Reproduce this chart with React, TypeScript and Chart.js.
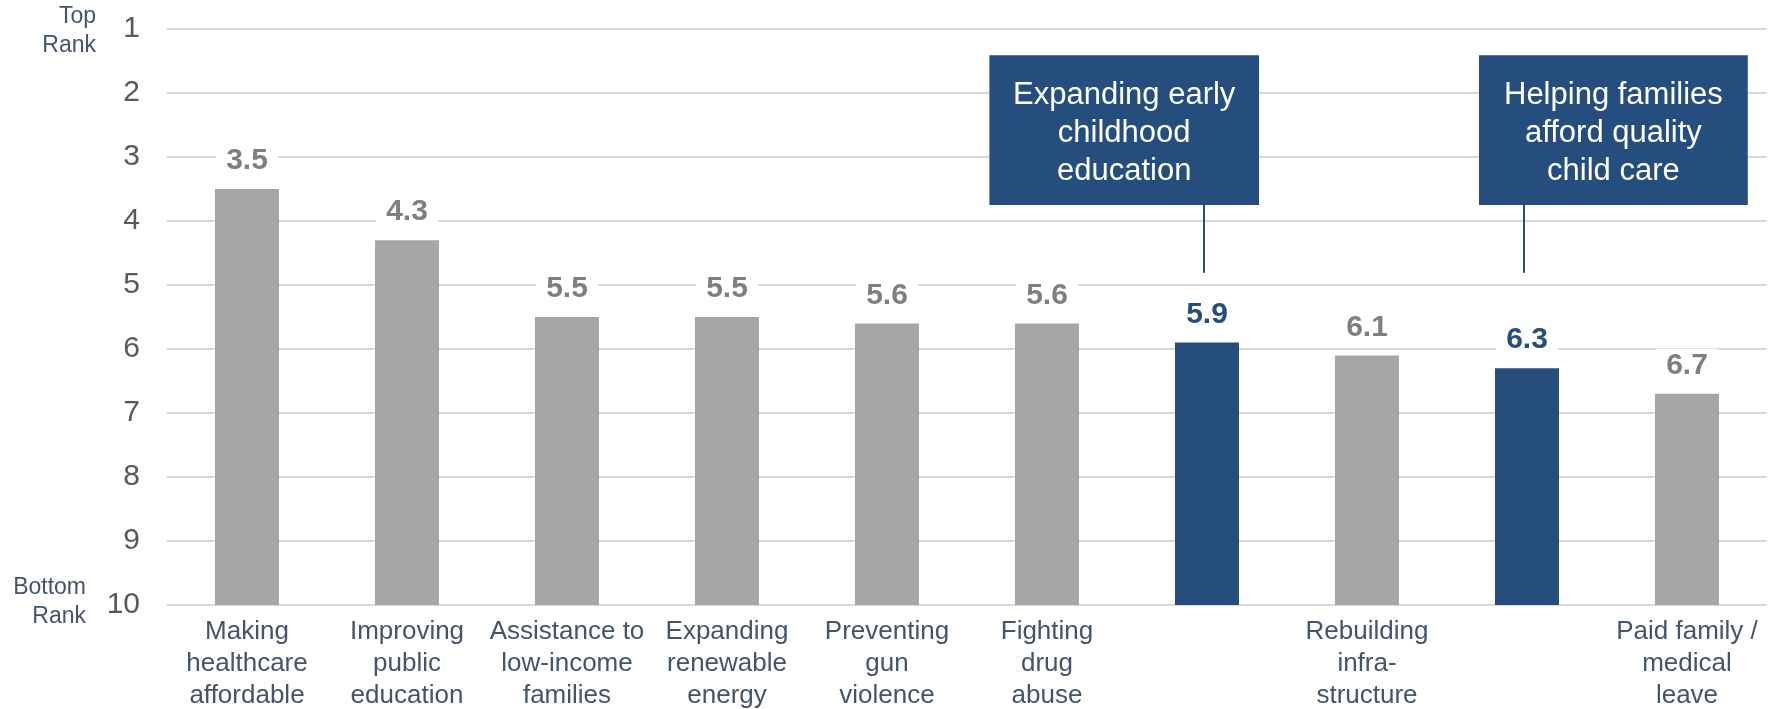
import React, { useEffect, useRef } from "react";
import { Chart, registerables } from "chart.js";

Chart.register(...registerables);

// ---- data ----
const categories: string[][] = [
  ["Making", "healthcare", "affordable"],
  ["Improving", "public", "education"],
  ["Assistance to", "low-income", "families"],
  ["Expanding", "renewable", "energy"],
  ["Preventing", "gun", "violence"],
  ["Fighting", "drug", "abuse"],
  [""],
  ["Rebuilding", "infra-", "structure"],
  [""],
  ["Paid family /", "medical", "leave"],
];
const rankValues = [3.5, 4.3, 5.5, 5.5, 5.6, 5.6, 5.9, 6.1, 6.3, 6.7];
const highlighted = [false, false, false, false, false, false, true, false, true, false];
const bottomRank = 10;
const topRank = 1;
const topAxisLabel = ["Top", "Rank"];
const bottomAxisLabel = ["Bottom", "Rank"];
const calloutIndex = [6, 8];
const calloutText = [
  ["Expanding early", "childhood", "education"],
  ["Helping families", "afford quality", "child care"],
];
// callout box extents in category / rank units
const calloutFrom = [4.64, 7.7];
const calloutTo = [6.325, 9.38];
const calloutTop = 1.41;
const calloutBottom = 3.75;
const connectorEnd = 4.81;

// ---- styles ----
const GRAY = "#A6A6A6";
const BLUE = "#254E7E";
const GRAY_LABEL = "#7F7F7F";
const SLATE = "#44546A";
const FONT = "'Liberation Sans', Arial, sans-serif";

const overlayPlugin = {
  id: "overlay",
  afterDatasetsDraw(chart: any) {
    const { ctx, chartArea } = chart;
    const x = chart.scales.x;
    const y = chart.scales.y;
    const meta = chart.getDatasetMeta(0);
    ctx.save();
    // value labels
    ctx.font = `bold 30px ${FONT}`;
    ctx.textAlign = "center";
    ctx.textBaseline = "middle";
    rankValues.forEach((v, i) => {
      const bar = meta.data[i];
      const cx = bar.x;
      const cy = y.getPixelForValue(v) - 29;
      const txt = v.toFixed(1);
      const w = ctx.measureText(txt).width + 20;
      ctx.fillStyle = "#FFFFFF";
      ctx.fillRect(cx - w / 2, cy - 16, w, 32);
      ctx.fillStyle = highlighted[i] ? BLUE : GRAY_LABEL;
      ctx.fillText(txt, cx, cy + 1);
    });

    // callouts
    calloutIndex.forEach((idx, k) => {
      const left = x.getPixelForValue(calloutFrom[k]);
      const right = x.getPixelForValue(calloutTo[k]);
      const top = y.getPixelForValue(calloutTop);
      const bottom = y.getPixelForValue(calloutBottom);
      const cx = meta.data[idx].x;
      ctx.strokeStyle = BLUE;
      ctx.lineWidth = 2;
      ctx.beginPath();
      ctx.moveTo(cx - 3, bottom);
      ctx.lineTo(cx - 3, y.getPixelForValue(connectorEnd));
      ctx.stroke();
      ctx.fillStyle = BLUE;
      ctx.fillRect(left, top, right - left, bottom - top);
      ctx.fillStyle = "#FFFFFF";
      ctx.font = `31px ${FONT}`;
      const lines = calloutText[k];
      const mid = (top + bottom) / 2 + 3;
      const lh = 38;
      lines.forEach((line, j) => {
        ctx.fillText(line, (left + right) / 2, mid + (j - (lines.length - 1) / 2) * lh);
      });
    });

    // axis end labels
    ctx.fillStyle = SLATE;
    ctx.font = `23px ${FONT}`;
    ctx.textAlign = "right";
    const yTop = y.getPixelForValue(topRank);
    topAxisLabel.forEach((t, j) => {
      ctx.fillText(t, chartArea.left - 71, yTop - 12 + j * 29);
    });
    const yBot = y.getPixelForValue(bottomRank);
    bottomAxisLabel.forEach((t, j) => {
      ctx.fillText(t, chartArea.left - 81, yBot - 17 + j * 29);
    });
    ctx.restore();
  },
};

export default function App() {
  const ref = useRef<HTMLCanvasElement | null>(null);
  useEffect(() => {
    if (!ref.current) return;
    const chart = new Chart(ref.current, {
      type: "bar",
      data: {
        labels: categories,
        datasets: [
          {
            data: rankValues.map((v) => [v, bottomRank]) as any,
            backgroundColor: highlighted.map((h) => (h ? BLUE : GRAY)),
            barPercentage: 0.4,
            categoryPercentage: 1,
            borderWidth: 0,
          },
        ],
      },
      options: {
        responsive: false,
        animation: false,
        layout: { padding: { top: 29, right: 18, left: 0, bottom: 0 } },
        plugins: { legend: { display: false }, tooltip: { enabled: false } },
        scales: {
          x: {
            grid: { display: false, drawTicks: false },
            border: { display: false },
            ticks: {
              color: SLATE,
              font: { family: FONT, size: 26, lineHeight: 1.23 },
              padding: 11,
              maxRotation: 0,
              autoSkip: false,
            },
            afterFit: (s: any) => {
              s.height = 104;
              s.paddingLeft = 0;
              s.paddingRight = 0;
            },
          },
          y: {
            reverse: true,
            min: topRank,
            max: bottomRank,
            grid: { color: "#D9D9D9", lineWidth: 2, drawTicks: false },
            border: { display: false },
            ticks: {
              stepSize: 1,
              color: "#595959",
              font: { family: FONT, size: 30 },
              padding: 27,
            },
            afterFit: (s: any) => {
              s.width = 167;
              s.paddingTop = 0;
              s.paddingBottom = 0;
            },
          },
        },
      },
      plugins: [overlayPlugin],
    });
    return () => chart.destroy();
  }, []);
  return (
    <div style={{ position: "absolute", left: 0, top: 0, width: 1785, height: 709 }}>
      <canvas ref={ref} width={1785} height={709} style={{ display: "block" }} />
    </div>
  );
}
